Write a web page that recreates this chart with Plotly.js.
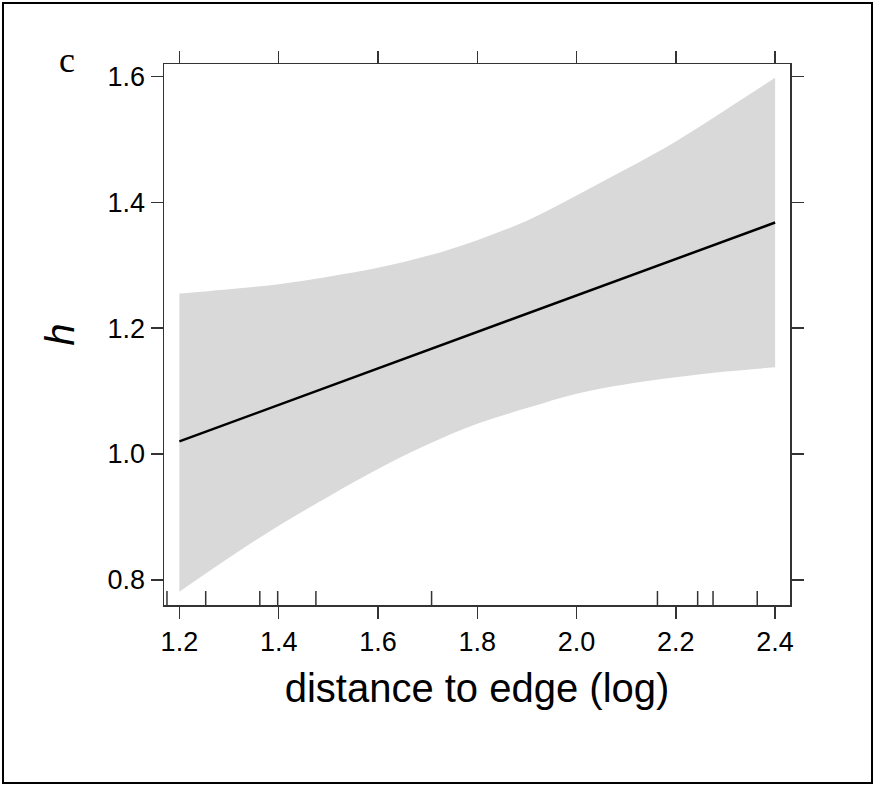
<!DOCTYPE html>
<html>
<head>
<meta charset="utf-8">
<script src="https://cdn.plot.ly/plotly-3.0.1.min.js"></script>
<style>html,body{margin:0;padding:0;background:#fff;}#chart{width:875px;height:787px;}</style>
</head>
<body>
<div id="chart"></div>
<script>
// Data
var xGrid = [1.2, 1.3, 1.4, 1.5, 1.6, 1.7, 1.8, 1.9, 2.0, 2.1, 2.2, 2.3, 2.4];
var fitH = [1.020, 1.049, 1.078, 1.107, 1.137, 1.166, 1.195, 1.224, 1.253, 1.282, 1.311, 1.339, 1.368];
var upperH = [1.255, 1.262, 1.270, 1.282, 1.296, 1.315, 1.340, 1.371, 1.411, 1.453, 1.497, 1.547, 1.598];
var lowerH = [0.781, 0.835, 0.886, 0.932, 0.976, 1.015, 1.048, 1.073, 1.096, 1.111, 1.122, 1.131, 1.138];
var rugX = [1.175, 1.253, 1.362, 1.398, 1.475, 1.708, 2.163, 2.244, 2.275, 2.364];
var xTicks = [1.2, 1.4, 1.6, 1.8, 2.0, 2.2, 2.4];
var yTicks = [0.8, 1.0, 1.2, 1.4, 1.6];

var W = 875, H = 787;
var mL = 164, mR = 85, mT = 64, mB = 182;
var pw = W - mL - mR, ph = H - mT - mB;
function px2paperX(p){ return (p - mL) / pw; }
function px2paperY(p){ return (H - mB - p) / ph; }

var traces = [
  {x: xGrid, y: lowerH, mode: 'lines', line: {width: 0, shape: 'spline', smoothing: 1, color: '#d9d9d9'}, hoverinfo: 'skip', showlegend: false},
  {x: xGrid, y: upperH, mode: 'lines', fill: 'tonexty', fillcolor: '#d9d9d9', line: {width: 0, shape: 'spline', smoothing: 1, color: '#d9d9d9'}, hoverinfo: 'skip', showlegend: false},
  {x: xGrid, y: fitH, mode: 'lines', line: {width: 2.5, color: '#000'}, showlegend: false}
];

var shapes = rugX.map(function(v){
  return {type: 'line', xref: 'x', yref: 'paper', x0: v, x1: v, y0: 0, y1: 14/ph, line: {color: '#333', width: 1.5}};
});
// outer frame
shapes.push({type: 'rect', xref: 'paper', yref: 'paper', x0: px2paperX(3), x1: px2paperX(872), y0: px2paperY(783), y1: px2paperY(3), line: {color: '#000', width: 2}, fillcolor: 'rgba(0,0,0,0)'});

var tickFont = {family: 'Liberation Sans, Arial, sans-serif', size: 27, color: '#000'};
var layout = {
  width: W, height: H,
  margin: {l: mL, r: mR, t: mT, b: mB, pad: 0},
  paper_bgcolor: '#fff', plot_bgcolor: '#fff',
  showlegend: false,
  xaxis: {
    range: [1.169, 2.430], tickvals: xTicks, ticktext: xTicks.map(function(v){return v.toFixed(1);}),
    ticks: 'outside', ticklen: 12, tickwidth: 1.5, tickcolor: '#333',
    showline: true, linecolor: '#333', linewidth: 1.5, mirror: 'ticks',
    showgrid: false, zeroline: false, tickfont: tickFont,
    title: {text: 'distance to edge (log)', font: {family: 'Liberation Sans, Arial, sans-serif', size: 40, color: '#000'}, standoff: 18}
  },
  yaxis: {
    range: [0.760, 1.620], tickvals: yTicks, ticktext: yTicks.map(function(v){return v.toFixed(1);}),
    ticks: 'outside', ticklen: 12, tickwidth: 1.5, tickcolor: '#333',
    showline: true, linecolor: '#333', linewidth: 1.5, mirror: 'ticks',
    showgrid: false, zeroline: false, tickfont: tickFont,
    title: {text: '<i>h</i>', font: {family: 'Liberation Sans, Arial, sans-serif', size: 40, color: '#000'}, standoff: 20}
  },
  shapes: shapes,
  annotations: [{
    text: 'c', xref: 'paper', yref: 'paper', x: px2paperX(67), y: px2paperY(60),
    showarrow: false, xanchor: 'center', yanchor: 'middle',
    font: {family: 'Liberation Serif, Times New Roman, serif', size: 36, color: '#000'}
  }]
};

Plotly.newPlot('chart', traces, layout, {displayModeBar: false, staticPlot: true});
</script>
</body>
</html>
